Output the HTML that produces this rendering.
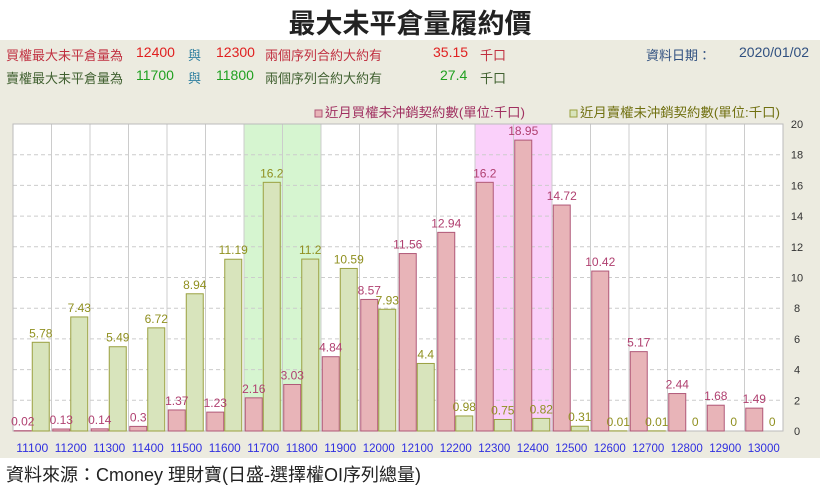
<!DOCTYPE html>
<html><head><meta charset="utf-8"><style>
body{margin:0;width:820px;height:488px;background:#fff;font-family:"Liberation Sans","Noto Sans CJK TC",sans-serif;position:relative;overflow:hidden}
.abs{position:absolute;white-space:nowrap}
.n{position:absolute;white-space:nowrap;font-size:14px}
.c{position:absolute;white-space:nowrap;font-size:13px;top:1px}
</style></head><body>
<div class="abs" style="left:0;width:820px;top:2px;text-align:center;font-size:27px;font-weight:bold;color:#222">最大未平倉量履約價</div>
<div class="abs" style="left:0;top:40px;width:820px;height:418px;background:#ecebe0"></div>
<div class="abs" style="left:0;top:44px;width:520px;height:20px;color:#c03040">
<span class="c" style="left:6px">買權最大未平倉量為</span><span class="n" style="left:136px;color:#e02020">12400</span><span class="c" style="left:188px;color:#3080a0">與</span><span class="n" style="left:216px;color:#e02020">12300</span><span class="c" style="left:265px">兩個序列合約大約有</span><span class="n" style="left:433px;color:#e02020">35.15</span><span class="c" style="left:480px">千口</span></div>
<div class="abs" style="left:0;top:67px;width:520px;height:20px;color:#406030">
<span class="c" style="left:6px">賣權最大未平倉量為</span><span class="n" style="left:136px;color:#20a020">11700</span><span class="c" style="left:188px;color:#3080a0">與</span><span class="n" style="left:216px;color:#20a020">11800</span><span class="c" style="left:265px">兩個序列合約大約有</span><span class="n" style="left:440px;color:#20a020">27.4</span><span class="c" style="left:480px">千口</span></div>
<span class="c" style="left:646px;top:45px;color:#305080">資料日期：</span>
<span class="n" style="left:739px;top:44px;color:#305080">2020/01/02</span>
<svg class="abs" style="left:0;top:0" width="820" height="488" id="chart"></svg>
<div class="abs" style="left:6px;top:461px;font-size:18px;color:#222">資料來源：Cmoney 理財寶(日盛-選擇權OI序列總量)</div>
<script>
const categories=["11100","11200","11300","11400","11500","11600","11700","11800","11900","12000","12100","12200","12300","12400","12500","12600","12700","12800","12900","13000"];
const callValues=[0.02,0.13,0.14,0.3,1.37,1.23,2.16,3.03,4.84,8.57,11.56,12.94,16.2,18.95,14.72,10.42,5.17,2.44,1.68,1.49];
const putValues=[5.78,7.43,5.49,6.72,8.94,11.19,16.2,11.2,10.59,7.93,4.4,0.98,0.75,0.82,0.31,0.01,0.01,0,0,0];
const yTicks=[0,2,4,6,8,10,12,14,16,18,20];
const callHighlight=["12300","12400"];
const putHighlight=["11700","11800"];
const svg=document.getElementById('chart');const NS='http://www.w3.org/2000/svg';
const L=13,R=783,T=124,B=431,cw=(R-L)/categories.length;
const x=i=>L+i*cw;const y=v=>B-(v/20)*(B-T);
function mk(t,a,txt){const e=document.createElementNS(NS,t);for(const k in a)e.setAttribute(k,a[k]);if(txt!==undefined)e.textContent=txt;svg.appendChild(e);return e;}
const bg=mk('rect',{x:L,y:T,width:R-L,height:B-T,fill:'#fff'});


[[putHighlight,'#d6f5d0'],[callHighlight,'#fad0fa']].forEach(([h,c])=>{const i=categories.indexOf(h[0]);const r=mk('rect',{x:x(i),y:T,width:cw*h.length,height:B-T,fill:c});

});
yTicks.forEach(v=>{if(v>0&&v<20){const g=mk('line',{x1:L,x2:R,y1:y(v),y2:y(v),stroke:'#ccc','stroke-dasharray':'4,3'});

}
const t=mk('text',{x:797,y:y(v)+4,'font-size':11,fill:'#333','text-anchor':'middle'},v);

});
categories.forEach((c,i)=>{const g=mk('line',{x1:x(i),x2:x(i),y1:T,y2:B,stroke:'#ccc'});


const t=mk('text',{x:x(i)+cw/2,y:452,'font-size':12,fill:'#3030e0','text-anchor':'middle',textLength:32,lengthAdjust:'spacingAndGlyphs'},c);

});
mk('rect',{x:L,y:T,width:R-L,height:B-T,fill:'none',stroke:'#bbb'});
const bw=17;
categories.forEach((c,i)=>{const cx=x(i)+cw/2;
const cv=callValues[i],pv=putValues[i];
const b1=mk('rect',{x:cx-bw-1,y:y(cv),width:bw,height:B-y(cv),fill:'#e8b4b8',stroke:'#b05878','stroke-width':1});


const b2=mk('rect',{x:cx,y:y(pv),width:bw,height:B-y(pv),fill:'#d8e4bc',stroke:'#9aa040','stroke-width':1});


const l1=mk('text',{x:cx-bw/2-1,y:y(cv)-5,'font-size':12,fill:'#b04070','text-anchor':'middle'},cv);


const l2=mk('text',{x:cx+bw/2,y:y(pv)-5,'font-size':12,fill:'#909020','text-anchor':'middle'},pv);

});
const lg1=mk('rect',{x:315,y:110,width:7,height:7,fill:'#e8b4b8',stroke:'#b05878'});


const lt1=mk('text',{x:325,y:117,'font-size':13,fill:'#a03060',textLength:200,lengthAdjust:'spacingAndGlyphs'},'近月買權未沖銷契約數(單位:千口)');


const lg2=mk('rect',{x:570,y:110,width:7,height:7,fill:'#d8e4bc',stroke:'#9aa040'});


const lt2=mk('text',{x:580,y:117,'font-size':13,fill:'#707010',textLength:200,lengthAdjust:'spacingAndGlyphs'},'近月賣權未沖銷契約數(單位:千口)');


</script>
</body></html>
